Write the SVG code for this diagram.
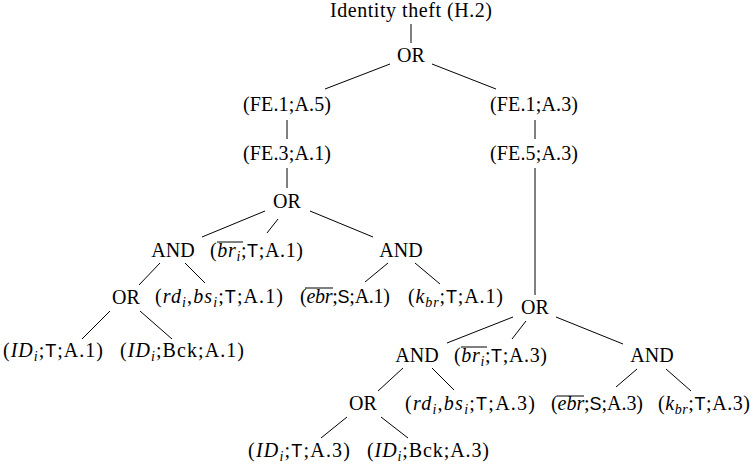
<svg xmlns="http://www.w3.org/2000/svg" width="756" height="470" viewBox="0 0 756 470">
<style>
.t{font-family:"Liberation Serif","DejaVu Serif","Times New Roman",serif;font-size:20px;fill:#000}
.m{text-anchor:middle}
.it{font-style:italic}
.sf{font-family:"Liberation Sans","DejaVu Sans",Arial,sans-serif;font-size:18px}
.sub{font-size:14px}
.e line{stroke:#000;stroke-width:1}
.ov{stroke:#000;stroke-width:1}
</style>
<rect width="756" height="470" fill="#fff"/>
<g id="connectors" class="e">
<line x1="411" y1="24" x2="411" y2="43"/>
<line x1="390" y1="64" x2="325" y2="89"/>
<line x1="432" y1="64" x2="496" y2="89"/>
<line x1="287" y1="120" x2="287" y2="139"/>
<line x1="287" y1="168" x2="287" y2="188"/>
<line x1="535" y1="120" x2="535" y2="139"/>
<line x1="535" y1="168" x2="535" y2="295"/>
<line x1="265" y1="211" x2="202" y2="237"/>
<line x1="278" y1="219" x2="267" y2="233"/>
<line x1="310" y1="211" x2="373" y2="237"/>
<line x1="160" y1="263" x2="139" y2="285"/>
<line x1="185" y1="263" x2="205" y2="283"/>
<line x1="388" y1="263" x2="365" y2="282"/>
<line x1="415" y1="263" x2="440" y2="284"/>
<line x1="110" y1="311" x2="82" y2="339"/>
<line x1="140" y1="311" x2="172" y2="339"/>
<line x1="513" y1="317" x2="447" y2="343"/>
<line x1="526" y1="321" x2="512" y2="339"/>
<line x1="556" y1="317" x2="623" y2="344"/>
<line x1="403" y1="368" x2="378" y2="391"/>
<line x1="432" y1="368" x2="454" y2="390"/>
<line x1="637" y1="369" x2="616" y2="387"/>
<line x1="666" y1="369" x2="691" y2="391"/>
<line x1="347" y1="417" x2="321" y2="438"/>
<line x1="381" y1="417" x2="408" y2="438"/>
</g>
<g id="root"><text class="t m" x="411" y="17" textLength="162" lengthAdjust="spacing">Identity theft (H.2)</text></g>
<g id="or1"><text class="t m" x="411" y="62">OR</text></g>
<g id="fe1a5"><text class="t m" x="287" y="111" textLength="88" lengthAdjust="spacing">(FE.1;A.5)</text></g>
<g id="fe3a1"><text class="t m" x="287" y="160" textLength="88" lengthAdjust="spacing">(FE.3;A.1)</text></g>
<g id="fe1a3"><text class="t m" x="534" y="111" textLength="88" lengthAdjust="spacing">(FE.1;A.3)</text></g>
<g id="fe5a3"><text class="t m" x="534" y="160" textLength="88" lengthAdjust="spacing">(FE.5;A.3)</text></g>
<g id="or2"><text class="t m" x="287" y="208">OR</text></g>
<g id="and1"><text class="t m" x="173" y="257">AND</text></g>
<g id="br1"><text class="t" x="210" y="257" textLength="93" lengthAdjust="spacing">(<tspan class="it">br</tspan><tspan class="it sub" dy="4">i</tspan><tspan dy="-4">;</tspan><tspan class="sf">T</tspan>;A.1)</text><line class="ov" x1="217" y1="242" x2="243" y2="242"/></g>
<g id="and2"><text class="t m" x="401" y="257">AND</text></g>
<g id="or3"><text class="t m" x="126" y="304">OR</text></g>
<g id="rd1"><text class="t" x="155" y="303" textLength="128" lengthAdjust="spacing">(<tspan class="it">rd</tspan><tspan class="it sub" dy="4">i</tspan><tspan dy="-4">,</tspan><tspan class="it">bs</tspan><tspan class="it sub" dy="4">i</tspan><tspan dy="-4">;</tspan><tspan class="sf">T</tspan>;A.1)</text></g>
<g id="ebr1"><text class="t" x="300" y="303" textLength="90" lengthAdjust="spacing">(<tspan class="it">ebr</tspan>;<tspan class="sf">S</tspan>;A.1)</text><line class="ov" x1="305" y1="288" x2="333" y2="288"/></g>
<g id="kbr1"><text class="t" x="408" y="303" textLength="95" lengthAdjust="spacing">(<tspan class="it">k</tspan><tspan class="it sub" dy="4">br</tspan><tspan dy="-4">;</tspan><tspan class="sf">T</tspan>;A.1)</text></g>
<g id="idt1"><text class="t" x="3" y="357" textLength="100" lengthAdjust="spacing">(<tspan class="it">ID</tspan><tspan class="it sub" dy="4">i</tspan><tspan dy="-4">;</tspan><tspan class="sf">T</tspan>;A.1)</text></g>
<g id="idbck1"><text class="t" x="120" y="357" textLength="124" lengthAdjust="spacing">(<tspan class="it">ID</tspan><tspan class="it sub" dy="4">i</tspan><tspan dy="-4">;Bck;A.1)</tspan></text></g>
<g id="or4"><text class="t m" x="535" y="314">OR</text></g>
<g id="and3"><text class="t m" x="417" y="362">AND</text></g>
<g id="br3"><text class="t" x="454" y="362" textLength="93" lengthAdjust="spacing">(<tspan class="it">br</tspan><tspan class="it sub" dy="4">i</tspan><tspan dy="-4">;</tspan><tspan class="sf">T</tspan>;A.3)</text><line class="ov" x1="461" y1="347" x2="487" y2="347"/></g>
<g id="and4"><text class="t m" x="652" y="362">AND</text></g>
<g id="or5"><text class="t m" x="363" y="410">OR</text></g>
<g id="rd3"><text class="t" x="405" y="410" textLength="130" lengthAdjust="spacing">(<tspan class="it">rd</tspan><tspan class="it sub" dy="4">i</tspan><tspan dy="-4">,</tspan><tspan class="it">bs</tspan><tspan class="it sub" dy="4">i</tspan><tspan dy="-4">;</tspan><tspan class="sf">T</tspan>;A.3)</text></g>
<g id="ebr3"><text class="t" x="551" y="410" textLength="92" lengthAdjust="spacing">(<tspan class="it">ebr</tspan>;<tspan class="sf">S</tspan>;A.3)</text><line class="ov" x1="557" y1="396" x2="584" y2="396"/></g>
<g id="kbr3"><text class="t" x="658" y="410" textLength="92" lengthAdjust="spacing">(<tspan class="it">k</tspan><tspan class="it sub" dy="4">br</tspan><tspan dy="-4">;</tspan><tspan class="sf">T</tspan>;A.3)</text></g>
<g id="idt3"><text class="t" x="248" y="457" textLength="102" lengthAdjust="spacing">(<tspan class="it">ID</tspan><tspan class="it sub" dy="4">i</tspan><tspan dy="-4">;</tspan><tspan class="sf">T</tspan>;A.3)</text></g>
<g id="idbck3"><text class="t" x="367" y="457" textLength="122" lengthAdjust="spacing">(<tspan class="it">ID</tspan><tspan class="it sub" dy="4">i</tspan><tspan dy="-4">;Bck;A.3)</tspan></text></g>
</svg>
